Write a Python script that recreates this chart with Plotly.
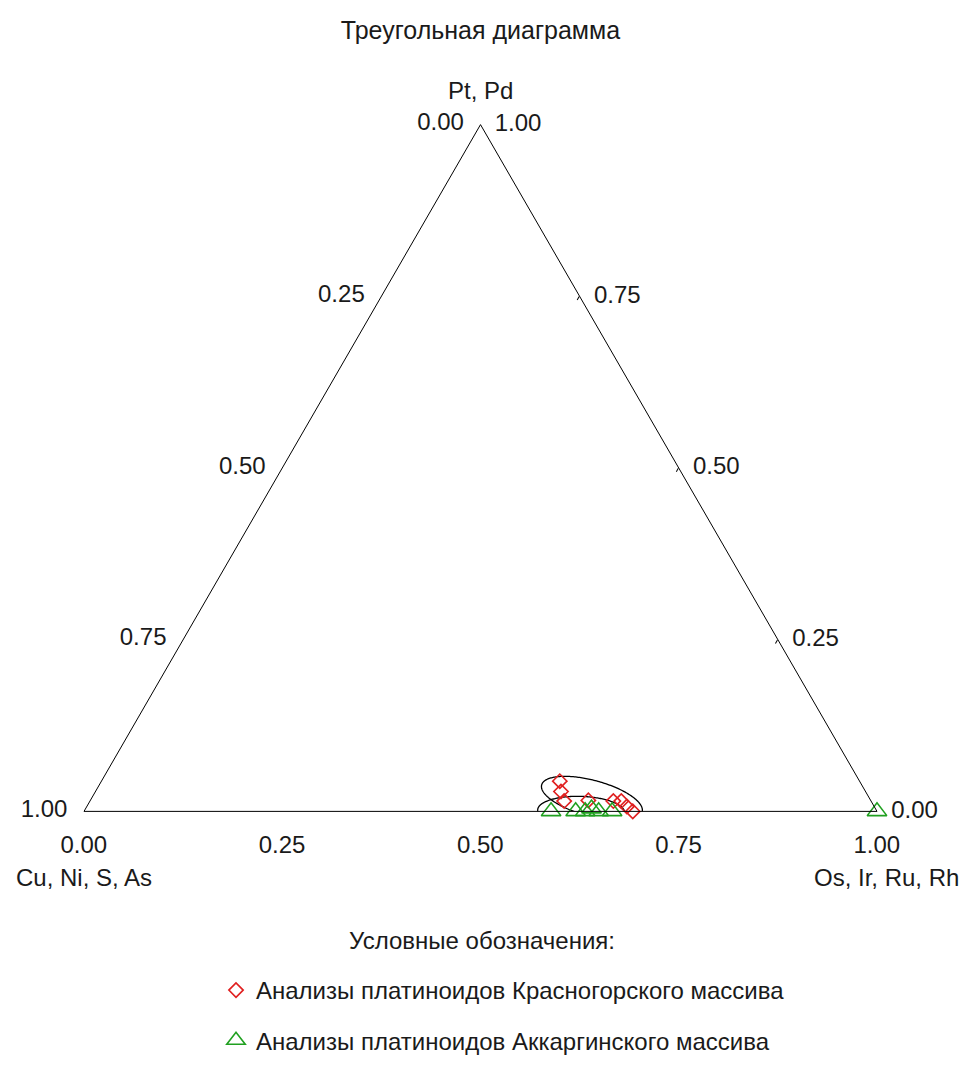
import numpy as np
import plotly.graph_objects as go

# Compositions as fractions: Pt+Pd (a), Cu+Ni+S+As (b), Os+Ir+Ru+Rh (c)
kras_pt = [0.044, 0.029, 0.015, 0.016, 0.015, 0.015, 0.007, 0.0]
kras_os = [0.578, 0.587, 0.598, 0.628, 0.660, 0.670, 0.681, 0.692]
kras_cu = [round(1 - p - o, 3) for p, o in zip(kras_pt, kras_os)]

akk_pt = [0.0, 0.0, 0.0, 0.004, 0.0, 0.0, 0.0]
akk_os = [0.589, 0.620, 0.632, 0.638, 0.649, 0.666, 1.0]
akk_cu = [round(1 - p - o, 3) for p, o in zip(akk_pt, akk_os)]

tick_vals = [0, 0.25, 0.5, 0.75, 1]
tick_text = ["1.00", "0.75", "0.50", "0.25", "0.00"]

# Composition fields: centre (Pt, Os), semi-axes in side-length units, tilt in degrees
field_pt = [0.019, 0.0]
field_os = [0.631, 0.627]
field_major = [0.0656, 0.0549]
field_minor = [0.0227, 0.0189]
field_tilt = [-15.0, -2.0]

FONT = "Liberation Sans, Arial, sans-serif"
INK = "#1a1a1a"
S3 = np.sqrt(3)
W, H = 961, 1079
NBSP = "\u00a0"
THIN = "\u2009"


def ellipse_abc(pt, os_, major, minor, tilt):
    """Outline of an ellipse drawn in the triangle plane, returned as (a, b, c)."""
    x0 = os_ + pt / 2
    y0 = pt * S3 / 2
    th = np.radians(tilt)
    t = np.linspace(0, 2 * np.pi, 241)
    x = x0 + major * np.cos(t) * np.cos(th) - minor * np.sin(t) * np.sin(th)
    y = y0 + major * np.cos(t) * np.sin(th) + minor * np.sin(t) * np.cos(th)
    a = 2 * y / S3
    c = x - a / 2
    b = 1 - a - c
    return a, b, c


fig = go.Figure()

for i in range(len(field_pt)):
    a, b, c = ellipse_abc(field_pt[i], field_os[i], field_major[i], field_minor[i], field_tilt[i])
    fig.add_trace(go.Scatterternary(
        a=a, b=b, c=c, mode="lines",
        line=dict(color="black", width=1.3),
        showlegend=False, hoverinfo="skip", cliponaxis=False,
    ))

fig.add_trace(go.Scatterternary(
    a=kras_pt, b=kras_cu, c=kras_os, mode="markers",
    name="Анализы платиноидов Красногорского массива",
    legendgroup="kras",
    marker=dict(symbol="diamond-open", size=11, color="#e02020",
                line=dict(width=1.6, color="#e02020")),
    cliponaxis=False,
))
fig.add_trace(go.Scatterternary(
    a=akk_pt, b=akk_cu, c=akk_os, mode="markers",
    name="Анализы платиноидов Аккаргинского массива",
    legendgroup="akk",
    marker=dict(symbol="triangle-up-open", size=17, color="#20a020",
                line=dict(width=1.6, color="#20a020")),
    cliponaxis=False,
))

base_axis = dict(
    showgrid=False, linecolor="black", linewidth=1,
    tickvals=tick_vals,
    tickfont=dict(family=FONT, size=24, color=INK),
    min=0, title=dict(text=""),
)
# Left edge: transparent outside ticks push the labels away from the line
a_axis = dict(base_axis, ticks="outside", ticklen=13, tickcolor="rgba(0,0,0,0)",
              ticktext=tick_text)
# Bottom edge: same stand-off, labels re-centred under their ticks
b_axis = dict(base_axis, ticks="outside", ticklen=13, tickcolor="rgba(0,0,0,0)",
              ticktext=[t + NBSP + NBSP for t in tick_text])
# Right edge: short inside ticks, labels padded away from the line
c_axis = dict(base_axis, ticks="inside", ticklen=4, tickcolor="black",
              ticktext=[NBSP + THIN + t for t in tick_text])

# Triangle placement in the figure
tri_left, tri_right, tri_top, tri_base = 84, 877, 123, 813

corner_titles = [
    dict(text="Pt, Pd", x=481 / W, y=1 - 90 / H),
    dict(text="Cu, Ni, S, As", x=84 / W, y=1 - 877 / H),
    dict(text="Os, Ir, Ru, Rh", x=886 / W, y=1 - 877 / H),
]
annotations = [
    dict(text=t["text"], x=t["x"], y=t["y"], xref="paper", yref="paper",
         xanchor="center", yanchor="middle", showarrow=False,
         font=dict(family=FONT, size=24, color=INK))
    for t in corner_titles
]
annotations.append(dict(
    text="Условные обозначения:", x=482 / W, y=1 - 940 / H,
    xref="paper", yref="paper", xanchor="center", yanchor="middle",
    showarrow=False, font=dict(family=FONT, size=24, color=INK),
))

fig.update_layout(
    width=W, height=H,
    margin=dict(l=0, r=0, t=0, b=0),
    paper_bgcolor="white",
    font=dict(family=FONT, color=INK, size=24),
    title=dict(text="Треугольная диаграмма", x=0.5, xanchor="center",
               y=1 - 30 / H, yanchor="middle",
               font=dict(family=FONT, size=25, color=INK)),
    ternary=dict(
        sum=1,
        bgcolor="white",
        domain=dict(x=[tri_left / W, tri_right / W],
                    y=[1 - tri_base / H, 1 - tri_top / H]),
        aaxis=a_axis,
        baxis=b_axis,
        caxis=c_axis,
    ),
    annotations=annotations,
    legend=dict(
        x=216 / W, xanchor="left",
        y=1 - 968 / H, yanchor="top",
        font=dict(family=FONT, size=24, color=INK),
        tracegroupgap=16,
        bgcolor="rgba(0,0,0,0)",
    ),
)

fig.write_html("out.html")
